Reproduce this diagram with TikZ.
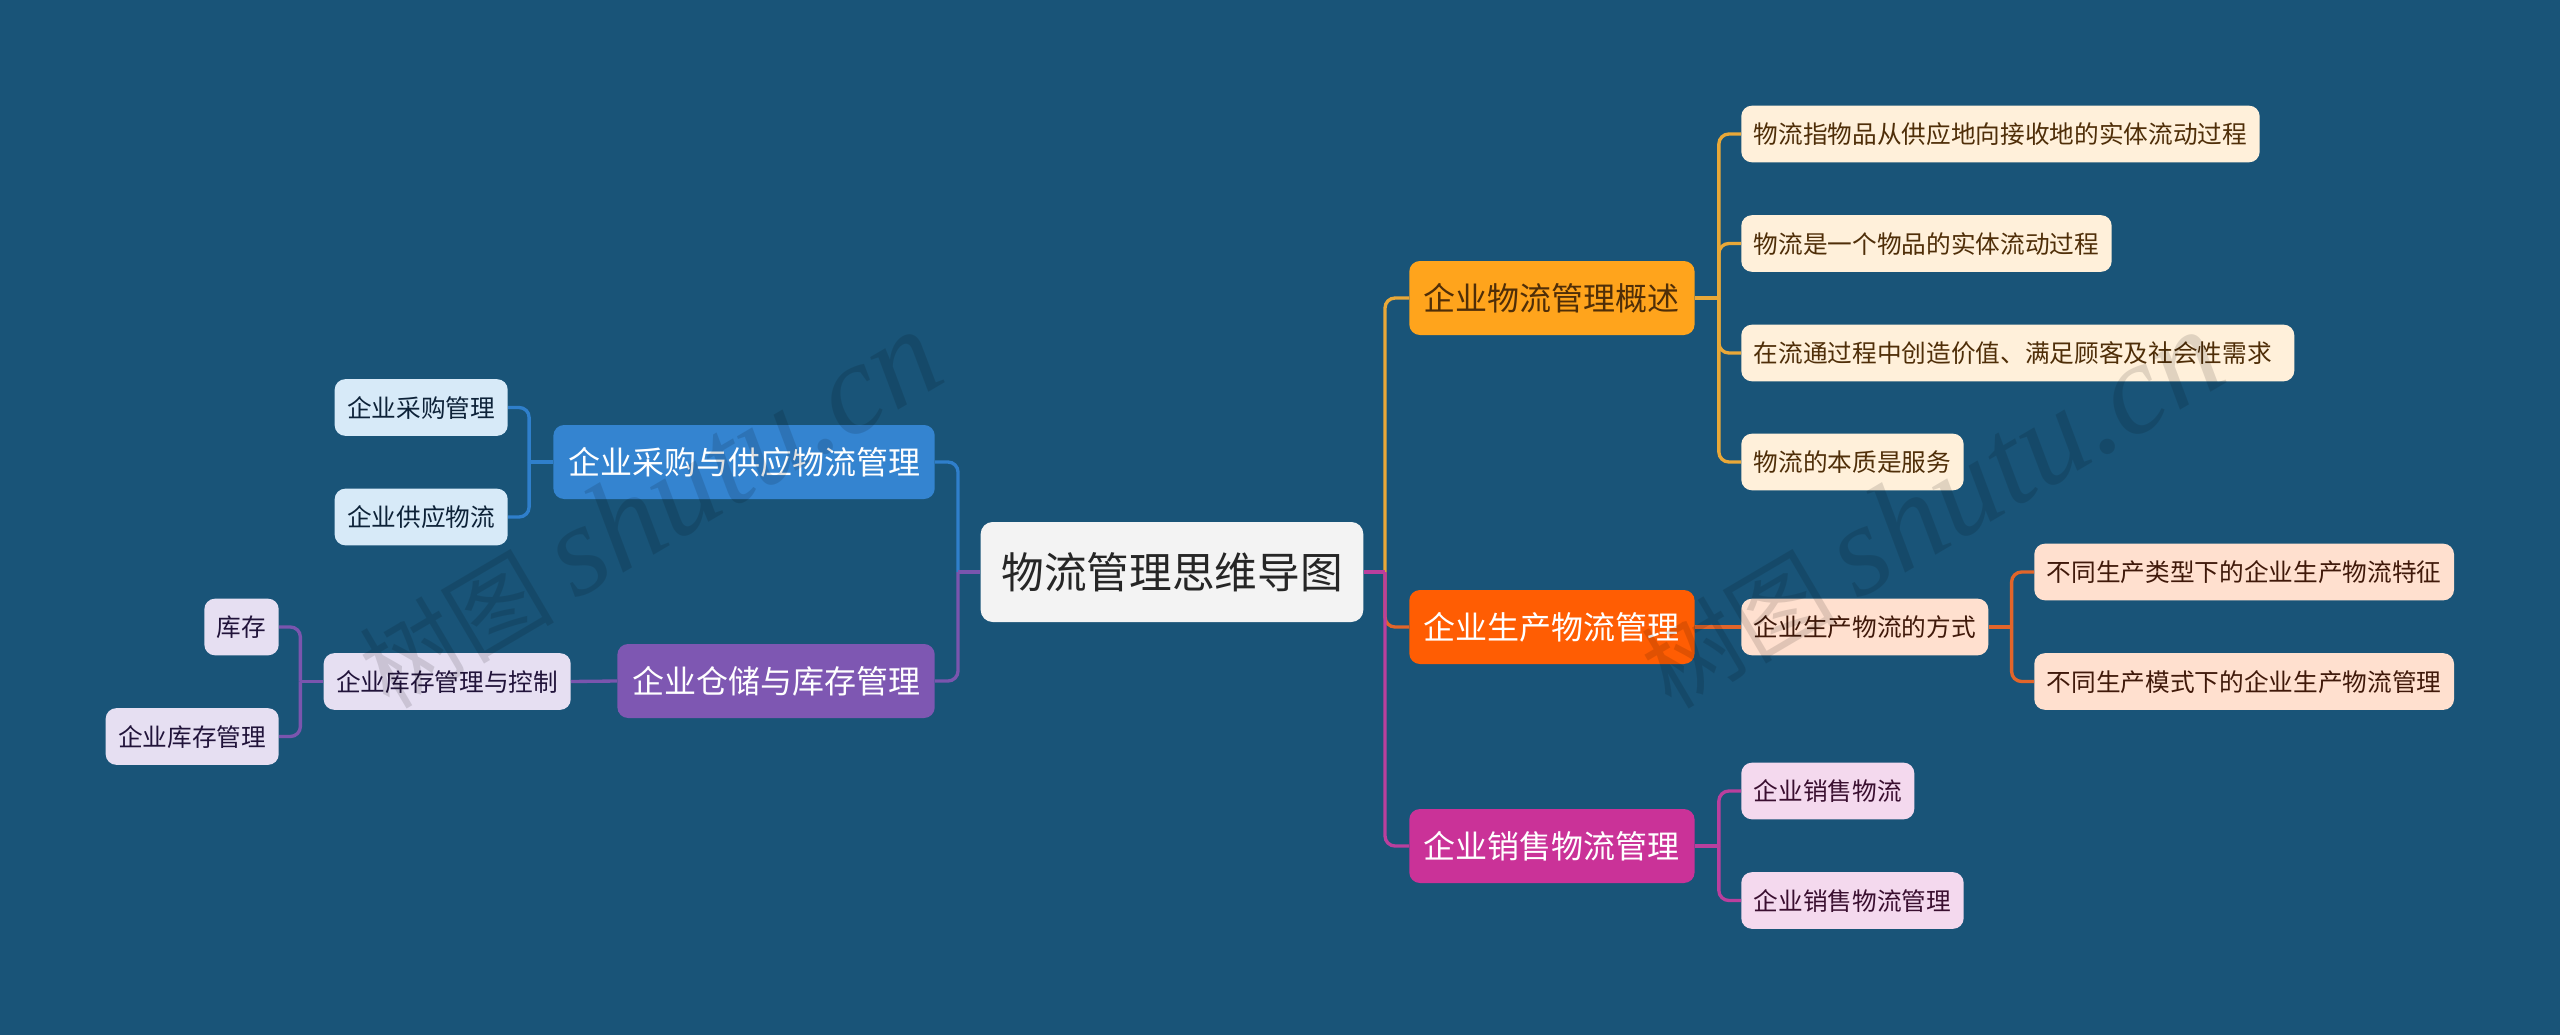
\documentclass[tikz,border=0pt]{standalone}
\usepackage{fontspec}
\setmainfont{Noto Sans CJK SC}
\newfontfamily\markfont[Scale=1]{Liberation Serif}
\usepackage{xcolor}
\definecolor{pagebg}{HTML}{195478}
\definecolor{rootfill}{HTML}{F3F3F3}
\definecolor{amberfill}{HTML}{FFA41C}
\definecolor{amberline}{HTML}{E9A838}
\definecolor{amberleaf}{HTML}{FFF0DA}
\definecolor{ambertext}{HTML}{4F2E08}
\definecolor{orangefill}{HTML}{FF5D03}
\definecolor{orangeline}{HTML}{E2652A}
\definecolor{orangeleaf}{HTML}{FFE0CF}
\definecolor{orangetext}{HTML}{40190A}
\definecolor{pinkfill}{HTML}{CA3298}
\definecolor{pinkline}{HTML}{BA3F9D}
\definecolor{pinkleaf}{HTML}{F4D9EE}
\definecolor{pinktext}{HTML}{3A0F30}
\definecolor{bluefill}{HTML}{3484D0}
\definecolor{blueline}{HTML}{2F7FCB}
\definecolor{blueleaf}{HTML}{D7EAF8}
\definecolor{bluetext}{HTML}{0D2238}
\definecolor{violetfill}{HTML}{7E57B2}
\definecolor{violetline}{HTML}{7A55AE}
\definecolor{violetleaf}{HTML}{E6DFF2}
\definecolor{violettext}{HTML}{21133A}
\tikzset{
  rootbox/.style={fill=rootfill,text=black!85,rounded corners=9pt,inner xsep=15.5pt,inner ysep=0pt,
    minimum height=75pt,font=\fontsize{32pt}{36pt}\selectfont,text height=27.5pt,text depth=2.5pt},
  mainbox/.style={rounded corners=8pt,inner xsep=11pt,inner ysep=0pt,minimum height=55.5pt,
    font=\fontsize{24pt}{28pt}\selectfont,text height=20.5pt,text depth=2pt},
  leafbox/.style={rounded corners=8pt,inner xsep=9.4pt,inner ysep=0pt,minimum height=42.5pt,
    font=\fontsize{18.5pt}{22pt}\selectfont,text height=16pt,text depth=1.5pt},
  link/.style={line width=2.5pt,rounded corners=7.5pt},
  stamp/.style={text=black,opacity=.12,rotate=30.5,inner sep=0pt}
}

\begin{document}
\begin{tikzpicture}[x=.75pt,y=-.75pt]
  % Page
  \fill[pagebg] (0,0) rectangle (2560,1035);
  % Centre
  \coordinate (hubr) at (1385,572);
  \coordinate (hubl) at (958,572);
  % Right branches
  \node[mainbox,fill=amberfill,text=ambertext,anchor=west] (survey) at (1409,298) {企业物流管理概述};
  \node[mainbox,fill=orangefill,text=white,anchor=west] (produce) at (1409,627) {企业生产物流管理};
  \node[mainbox,fill=pinkfill,text=white,anchor=west] (sales) at (1409,846) {企业销售物流管理};
  % Left branches
  \node[mainbox,fill=bluefill,text=white,anchor=east] (purchase) at (935,462) {企业采购与供应物流管理};
  \node[mainbox,fill=violetfill,text=white,anchor=east] (store) at (935,681) {企业仓储与库存管理};
  % Leaves of survey
  \node[leafbox,fill=amberleaf,text=ambertext,anchor=west] (surveya) at (1741,134) {物流指物品从供应地向接收地的实体流动过程};
  \node[leafbox,fill=amberleaf,text=ambertext,anchor=west] (surveyb) at (1741,243.5) {物流是一个物品的实体流动过程};
  \node[leafbox,fill=amberleaf,text=ambertext,anchor=west] (surveyc) at (1741,353) {在流通过程中创造价值、满足顾客及社会性需求\kern7.5pt};
  \node[leafbox,fill=amberleaf,text=ambertext,anchor=west] (surveyd) at (1741,462) {物流的本质是服务};
  % Leaves of produce
  \node[leafbox,fill=orangeleaf,text=orangetext,anchor=west] (way) at (1741,627) {企业生产物流的方式};
  \node[leafbox,fill=orangeleaf,text=orangetext,anchor=west] (waya) at (2034,572) {不同生产类型下的企业生产物流特征};
  \node[leafbox,fill=orangeleaf,text=orangetext,anchor=west] (wayb) at (2034,681.5) {不同生产模式下的企业生产物流管理};
  % Leaves of sales
  \node[leafbox,fill=pinkleaf,text=pinktext,anchor=west] (salesa) at (1741,791) {企业销售物流};
  \node[leafbox,fill=pinkleaf,text=pinktext,anchor=west] (salesb) at (1741,900.5) {企业销售物流管理};
  % Leaves of purchase
  \node[leafbox,fill=blueleaf,text=bluetext,anchor=east] (purchasea) at (508,407.5) {企业采购管理};
  \node[leafbox,fill=blueleaf,text=bluetext,anchor=east] (purchaseb) at (508,517) {企业供应物流};
  % Leaves of store
  \node[leafbox,fill=violetleaf,text=violettext,anchor=east] (stock) at (571,681.5) {企业库存管理与控制};
  \node[leafbox,fill=violetleaf,text=violettext,anchor=east] (stocka) at (279,627) {库存};
  \node[leafbox,fill=violetleaf,text=violettext,anchor=east] (stockb) at (279,736.5) {企业库存管理};
  \node[rootbox] (root) at (1172,572) {物流管理思维导图};
  % Connectors from the centre
  \draw[link,blueline] (hubl) |- (purchase.east);
  \draw[link,violetline] (hubl) |- (store.east);
  \draw[link,violetline] (root.west) -- (hubl);
  \draw[link,amberline] (hubr) |- (survey.west);
  \draw[link,orangeline] (hubr) |- (produce.west);
  \draw[link,pinkline] (hubr) |- (sales.west);
  \draw[link,pinkline] (root.east) -- (hubr);
  % Connectors of survey
  \draw[link,amberline] (survey.east) -- ++(24,0) coordinate (hubs);
  \draw[link,amberline] (hubs) |- (surveya.west);
  \draw[link,amberline] (hubs) |- (surveyb.west);
  \draw[link,amberline] (hubs) |- (surveyc.west);
  \draw[link,amberline] (hubs) |- (surveyd.west);
  % Connectors of produce
  \draw[link,orangeline] (produce.east) -- (way.west);
  \draw[link,orangeline] (way.east) -- ++(23,0) coordinate (hubw);
  \draw[link,orangeline] (hubw) |- (waya.west);
  \draw[link,orangeline] (hubw) |- (wayb.west);
  % Connectors of sales
  \draw[link,pinkline] (sales.east) -- ++(24,0) coordinate (hubt);
  \draw[link,pinkline] (hubt) |- (salesa.west);
  \draw[link,pinkline] (hubt) |- (salesb.west);
  % Connectors of purchase
  \draw[link,blueline] (purchase.west) -- ++(-24,0) coordinate (hubp);
  \draw[link,blueline] (hubp) |- (purchasea.east);
  \draw[link,blueline] (hubp) |- (purchaseb.east);
  % Connectors of store
  \draw[link,violetline] (store.west) -- (stock.east);
  \draw[link,violetline] (stock.west) -- ++(-23,0) coordinate (hubk);
  \draw[link,violetline] (hubk) |- (stocka.east);
  \draw[link,violetline] (hubk) |- (stockb.east);
  % Watermarks
  \node[stamp] (stampl) at (649,510) {\fontsize{73pt}{76pt}\selectfont 树图 {\markfont\itshape\fontsize{97pt}{100pt}\selectfont shutu.cn}};
  \node[stamp] (stampr) at (1931,510) {\fontsize{73pt}{76pt}\selectfont 树图 {\markfont\itshape\fontsize{97pt}{100pt}\selectfont shutu.cn}};
\end{tikzpicture}
\end{document}
